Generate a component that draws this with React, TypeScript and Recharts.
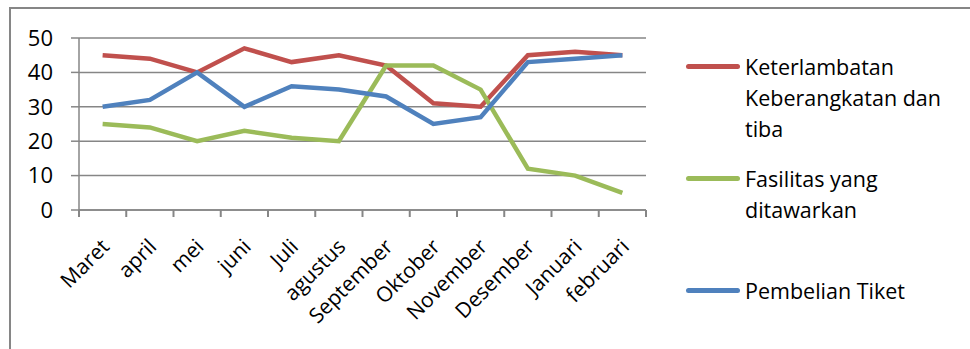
import { LineChart, Line, XAxis, YAxis, CartesianGrid } from 'recharts'

const months = ['Maret', 'april', 'mei', 'juni', 'Juli', 'agustus', 'September', 'Oktober', 'November', 'Desember', 'Januari', 'februari']
const keterlambatan = [45, 44, 40, 47, 43, 45, 42, 31, 30, 45, 46, 45]
const fasilitas = [25, 24, 20, 23, 21, 20, 42, 42, 35, 12, 10, 5]
const pembelian = [30, 32, 40, 30, 36, 35, 33, 25, 27, 43, 44, 45]
const yTicks = [0, 10, 20, 30, 40, 50]

const series = [
  { key: 'keterlambatan', name: 'Keterlambatan Keberangkatan dan tiba', lines: ['Keterlambatan', 'Keberangkatan dan', 'tiba'], color: '#C0504D' },
  { key: 'fasilitas', name: 'Fasilitas yang ditawarkan', lines: ['Fasilitas yang', 'ditawarkan'], color: '#9BBB59' },
  { key: 'pembelian', name: 'Pembelian Tiket', lines: ['Pembelian Tiket'], color: '#4F81BD' },
]

// each month sits in the middle of its slot on a 0..12 axis
const data = months.map((m, i) => ({
  month: m,
  slot: i + 0.5,
  keterlambatan: keterlambatan[i],
  fasilitas: fasilitas[i],
  pembelian: pembelian[i],
}))

// boundaries between categories (Excel puts its tick marks there)
const slotTicks = months.map((_, i) => i).concat(months.length)

const FONT = '"Open Sans", sans-serif'
const GRAY = '#868686'

function MonthTick(props: any) {
  const { x, y, payload } = props
  return (
    <text
      x={x + 8}
      y={y + 29}
      transform={`rotate(-45, ${x + 8}, ${y + 29})`}
      textAnchor="end"
      fontSize={21}
      fontFamily={FONT}
      fill="#000"
    >
      {payload.value}
    </text>
  )
}

function NoLabel() {
  return <g />
}

function LegendBox() {
  return (
    <div style={{ position: 'absolute', left: 686, top: 51, fontFamily: FONT, fontSize: 21.5, color: '#000' }}>
      {series.map((s) => (
        <div key={s.key} style={{ height: 112, display: 'flex', alignItems: 'flex-start' }}>
          <div style={{ width: 54, height: 5, borderRadius: 3, background: s.color, marginTop: 13, marginRight: 5 }} />
          <div style={{ lineHeight: '31px', whiteSpace: 'nowrap' }}>
            {s.lines.map((l) => (
              <div key={l}>{l}</div>
            ))}
          </div>
        </div>
      ))}
    </div>
  )
}

export default function App() {
  return (
    <div style={{ position: 'absolute', left: 0, top: 0, width: 970, height: 349, overflow: 'hidden', background: '#fff' }}>
      <div style={{ position: 'absolute', left: 9, top: 7, width: 980, height: 380, border: `2px solid ${GRAY}`, boxSizing: 'border-box' }} />
      <LineChart
        width={970}
        height={349}
        data={data}
        margin={{ top: 38, right: 324, left: 0, bottom: 0 }}
        style={{ position: 'absolute', left: 0, top: 0 }}
      >
        <CartesianGrid horizontal vertical={false} stroke={GRAY} strokeWidth={1.5} />
        <XAxis
          type="number"
          dataKey="slot"
          domain={[0, months.length]}
          ticks={slotTicks}
          interval={0}
          tick={<NoLabel />}
          tickSize={7}
          tickLine={{ stroke: GRAY, strokeWidth: 2 }}
          axisLine={{ stroke: GRAY, strokeWidth: 1.5 }}
          height={1}
        />
        <XAxis
          xAxisId="labels"
          dataKey="month"
          interval={0}
          padding={{ left: 23.6, right: 23.6 }}
          axisLine={false}
          tickLine={false}
          tick={<MonthTick />}
          height={138}
        />
        <YAxis
          domain={[0, 50]}
          ticks={yTicks}
          width={79}
          tickSize={8}
          tickMargin={18}
          axisLine={{ stroke: GRAY, strokeWidth: 1.5 }}
          tickLine={{ stroke: GRAY, strokeWidth: 1.5 }}
          tick={{ fontSize: 22, fontFamily: FONT, fill: '#000' }}
        />
        {series.map((s) => (
          <Line
            key={s.key}
            type="linear"
            dataKey={s.key}
            name={s.name}
            stroke={s.color}
            strokeWidth={4.5}
            dot={false}
            activeDot={false}
            isAnimationActive={false}
          />
        ))}
      </LineChart>
      <LegendBox />
    </div>
  )
}
